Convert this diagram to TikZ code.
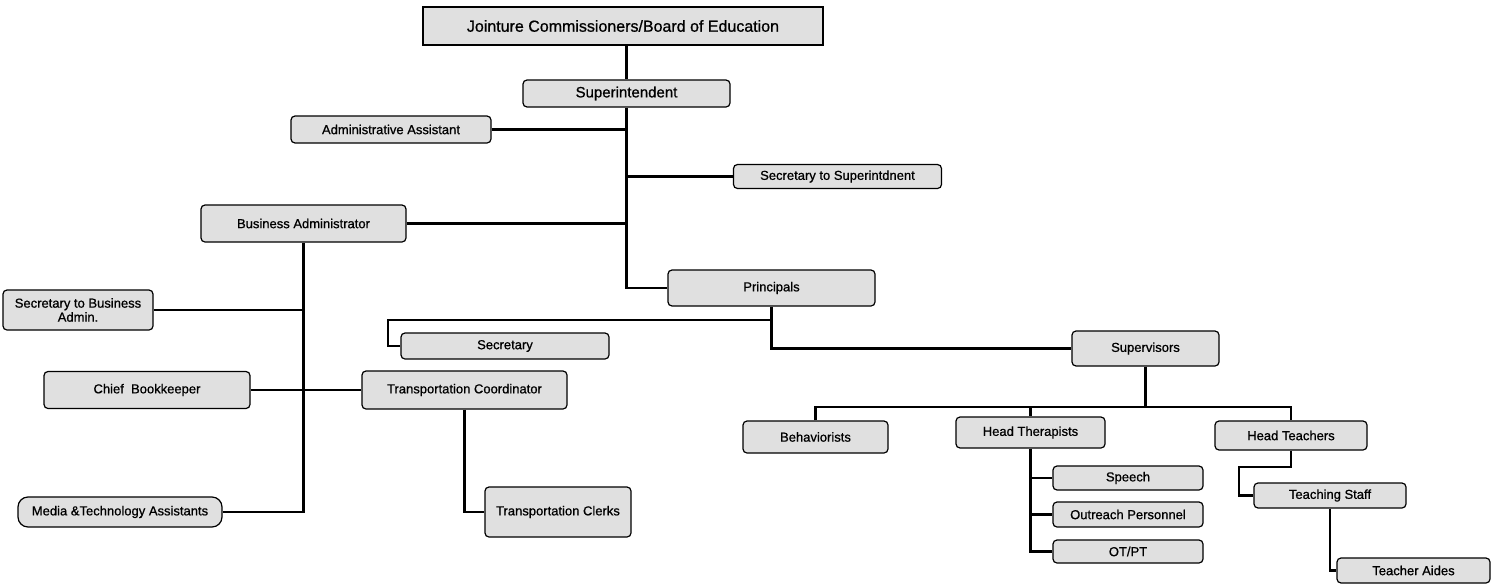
\documentclass[tikz,border=0pt]{standalone}
\usepackage{fontspec}
\setmainfont{Liberation Sans}
\newfontfamily\labfont{Liberation Sans}[FakeBold=0.8]
\begin{document}
\begin{tikzpicture}[x=1pt,y=-1pt,
  box/.style={draw, line width=1.2pt, rounded corners=4pt, fill=black!12, inner sep=0pt,
    font=\labfont\fontsize{13}{14}\selectfont, align=center},
  sz/.style 2 args={minimum width=#1pt, minimum height=#2pt},
  conn/.style={line width=2.6pt, line join=miter}]
\useasboundingbox (0,0) rectangle (1494,584);
% nodes
\node[box, rounded corners=0pt, sz={400}{38}, font=\labfont\fontsize{16}{18}\selectfont] (top) at (623,26) {Jointure Commissioners/Board of Education};
\node[box, sz={207}{27}, font=\labfont\fontsize{15}{16}\selectfont] (sup) at (626.5,93.5) {Superintendent};
\node[box, sz={200}{27}] (adm) at (391,129.5) {Administrative Assistant};
\node[box, sz={208}{24}] (secsup) at (837.5,176.5) {Secretary to Superintdnent};
\node[box, sz={205}{37}] (bus) at (303.5,223.5) {Business Administrator};
\node[box, sz={207}{36}] (prin) at (771.5,288) {Principals};
\node[box, sz={150}{40}] (secbus) at (78,310) {Secretary to Business\\Admin.};
\node[box, sz={206}{37}] (chief) at (147,390) {Chief\ \ Bookkeeper};
\node[box, sz={205}{38}] (trans) at (464.5,390) {Transportation Coordinator};
\node[box, sz={204}{30}, rounded corners=10pt] (media) at (120,512) {Media \&Technology Assistants};
\node[box, sz={146}{50}] (clerks) at (558,512) {Transportation Clerks};
\node[box, sz={208}{26}] (sec) at (505,346) {Secretary};
\node[box, sz={147}{35}] (supv) at (1145.5,348.5) {Supervisors};
\node[box, sz={145}{32}] (beh) at (815.5,437) {Behaviorists};
\node[box, sz={149}{31}] (ht) at (1030.5,432.5) {Head Therapists};
\node[box, sz={152}{29}] (hteach) at (1291,435.5) {Head Teachers};
\node[box, sz={150}{24}] (speech) at (1128,478) {Speech};
\node[box, sz={150}{25}] (outreach) at (1128,514.5) {Outreach Personnel};
\node[box, sz={150}{23}] (otpt) at (1128,551.5) {OT/PT};
\node[box, sz={152}{25}] (tstaff) at (1330,495.5) {Teaching Staff};
\node[box, sz={153}{25}] (aides) at (1413.5,570.5) {Teacher Aides};
% helper coordinates
\coordinate (secbend) at (388,320);
\coordinate (bar) at (0,407);
\coordinate (htbend) at (1239,467);
% connectors
\draw[conn] (top.south -| sup.north) -- (sup.north);
\draw[conn] (sup.south) -- (sup.south |- prin.west) -- (prin.west);
\draw[conn] (adm.east) -- (adm.east -| sup.south);
\draw[conn] (secsup.west) -- (secsup.west -| sup.south);
\draw[conn] (bus.east) -- (bus.east -| sup.south);
\draw[conn] (bus.south) -- (bus.south |- media.east) -- (media.east);
\draw[conn] (secbus.east) -- (secbus.east -| bus.south);
\draw[conn] (chief.east) -- (trans.west);
\draw[conn] (trans.south) -- (trans.south |- clerks.west) -- (clerks.west);
\draw[conn] (prin.south) -- (prin.south |- supv.west) -- (supv.west);
\draw[conn] (prin.south |- secbend) -- (secbend) -- (secbend |- sec.west) -- (sec.west);
\draw[conn] (supv.south) -- (supv.south |- bar);
\draw[conn] (beh.north) -- (beh.north |- bar) -- (hteach.north |- bar) -- (hteach.north);
\draw[conn] (ht.north |- bar) -- (ht.north);
\draw[conn] (ht.south) -- (ht.south |- otpt.west) -- (otpt.west);
\draw[conn] (speech.west -| ht.south) -- (speech.west);
\draw[conn] (outreach.west -| ht.south) -- (outreach.west);
\draw[conn] (hteach.south) -- (hteach.south |- htbend) -- (htbend) -- (htbend |- tstaff.west) -- (tstaff.west);
\draw[conn] (tstaff.south) -- (tstaff.south |- aides.west) -- (aides.west);
\end{tikzpicture}
\end{document}
